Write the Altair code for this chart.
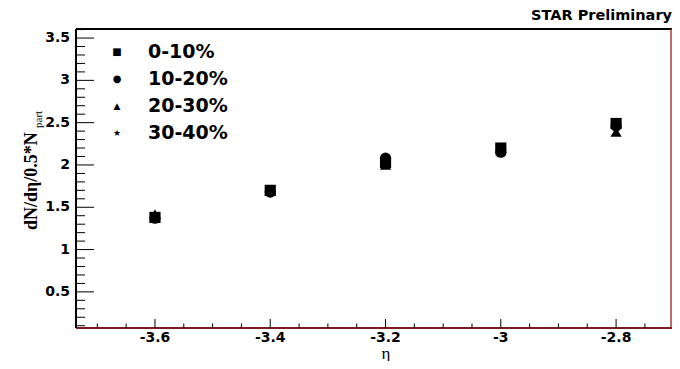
import altair as alt
import pandas as pd

# ---- data ----
eta = [-3.6, -3.4, -3.2, -3.0, -2.8]
centralities = ["0-10%", "10-20%", "20-30%", "30-40%"]
v_0_10 = [1.38, 1.70, 2.03, 2.20, 2.49]
v_10_20 = [1.37, 1.68, 2.08, 2.15, 2.46]
v_20_30 = [1.42, 1.69, 2.00, 2.17, 2.39]
v_30_40 = [1.39, 1.69, 1.96, 2.17, 2.41]
shapes = ["square", "circle", "triangle-up", "star"]
legend_glyphs = ["■", "●", "▲", "★"]
legend_glyph_sizes = [10, 10, 9, 9]

x_major = [-3.6, -3.4, -3.2, -3.0, -2.8]
x_labels = ["-3.6", "-3.4", "-3.2", "-3", "-2.8"]
x_minor = [-3.7, -3.65, -3.55, -3.5, -3.45, -3.35, -3.3, -3.25, -3.15, -3.1,
           -3.05, -2.95, -2.9, -2.85, -2.75]
y_major = [0.5, 1.0, 1.5, 2.0, 2.5, 3.0, 3.5]
y_labels = ["0.5", "1", "1.5", "2", "2.5", "3", "3.5"]
y_minor = [0.1, 0.2, 0.3, 0.4, 0.6, 0.7, 0.8, 0.9, 1.1, 1.2, 1.3, 1.4,
           1.6, 1.7, 1.8, 1.9, 2.1, 2.2, 2.3, 2.4, 2.6, 2.7, 2.8, 2.9,
           3.1, 3.2, 3.3, 3.4, 3.6]

title_text = ["STAR Preliminary"]
ylab_main = ["dN/dη/0.5*N"]
ylab_sub = ["part"]
xlab = ["η"]

W, H = 596, 299
xscale = alt.Scale(domain=[-3.737, -2.703], nice=False, zero=False)
yscale = alt.Scale(domain=[0.073, 3.607], nice=False, zero=False)
LBL = dict(font="DejaVu Sans", fontWeight="bold", fontSize=14, color="black")

rows = []
for c, vals in zip(centralities, [v_0_10, v_10_20, v_20_30, v_30_40]):
    for e, v in zip(eta, vals):
        rows.append({"eta": e, "val": v, "cent": c})
df = pd.DataFrame(rows)
one = pd.DataFrame({"k": [0]})

layers = []

# frame
layers.append(alt.Chart(one).mark_rule(color="black", strokeWidth=2).encode(
    x=alt.value(0), x2=alt.value(W), y=alt.value(0)))
layers.append(alt.Chart(one).mark_rule(color="#a83a3a", strokeWidth=1.5).encode(
    x=alt.value(W - 1), y=alt.value(0), y2=alt.value(H)))
layers.append(alt.Chart(one).mark_rule(color="#7d1c1c", strokeWidth=2).encode(
    x=alt.value(0), x2=alt.value(W), y=alt.value(H)))
layers.append(alt.Chart(one).mark_rule(color="black", strokeWidth=2).encode(
    x=alt.value(0), y=alt.value(0), y2=alt.value(H)))

# ticks (ROOT-style, pointing inward)
layers.append(alt.Chart(pd.DataFrame({"val": y_major})).mark_rule(color="black", strokeWidth=1).encode(
    y=alt.Y("val:Q", scale=yscale, axis=None), x=alt.value(0), x2=alt.value(18)))
layers.append(alt.Chart(pd.DataFrame({"val": y_minor})).mark_rule(color="black", strokeWidth=1).encode(
    y=alt.Y("val:Q", scale=yscale, axis=None), x=alt.value(0), x2=alt.value(9)))
layers.append(alt.Chart(pd.DataFrame({"eta": x_major})).mark_rule(color="black", strokeWidth=1).encode(
    x=alt.X("eta:Q", scale=xscale, axis=None), y=alt.value(H), y2=alt.value(H - 9)))
layers.append(alt.Chart(pd.DataFrame({"eta": x_minor})).mark_rule(color="black", strokeWidth=1).encode(
    x=alt.X("eta:Q", scale=xscale, axis=None), y=alt.value(H), y2=alt.value(H - 4.5)))

# tick labels
layers.append(alt.Chart(pd.DataFrame({"val": y_major, "lab": y_labels})).mark_text(
    align="right", baseline="middle", **LBL).encode(
    y=alt.Y("val:Q", scale=yscale, axis=None), x=alt.value(-6), text="lab:N"))
layers.append(alt.Chart(pd.DataFrame({"eta": x_major, "lab": x_labels})).mark_text(
    align="center", baseline="top", **LBL).encode(
    x=alt.X("eta:Q", scale=xscale, axis=None), y=alt.value(H + 3), text="lab:N"))

# titles
layers.append(alt.Chart(pd.DataFrame({"t": title_text})).mark_text(
    font="DejaVu Sans", fontWeight="bold", fontSize=14.5, align="right",
    baseline="alphabetic", color="black").encode(
    x=alt.value(W), y=alt.value(-9), text="t:N"))
layers.append(alt.Chart(pd.DataFrame({"t": ylab_main})).mark_text(
    font="Liberation Serif", fontSize=18, fontWeight="bold", angle=270, align="left",
    baseline="alphabetic", color="black").encode(
    x=alt.value(-39), y=alt.value(201), text="t:N"))
layers.append(alt.Chart(pd.DataFrame({"t": ylab_sub})).mark_text(
    font="Liberation Serif", fontSize=11, angle=270, align="left",
    baseline="alphabetic", color="black").encode(
    x=alt.value(-34), y=alt.value(99), text="t:N"))
layers.append(alt.Chart(pd.DataFrame({"t": xlab})).mark_text(
    font="Liberation Serif", fontSize=17, align="center",
    baseline="alphabetic", color="black").encode(
    x=alt.value(310), y=alt.value(330), text="t:N"))

# legend (text-based)
legend_y0, legend_dy = 23, 27
for i, (lab, g, gs) in enumerate(zip(centralities, legend_glyphs, legend_glyph_sizes)):
    ly = legend_y0 + i * legend_dy
    layers.append(alt.Chart(pd.DataFrame({"t": [lab]})).mark_text(
        font="DejaVu Sans", fontWeight="bold", fontSize=19, align="left",
        baseline="middle", color="black").encode(
        x=alt.value(72), y=alt.value(ly), text="t:N"))
    layers.append(alt.Chart(pd.DataFrame({"t": [g]})).mark_text(
        font="DejaVu Sans", fontSize=gs, align="center",
        baseline="middle", color="black").encode(
        x=alt.value(41), y=alt.value(ly), text="t:N"))

# data points (last)
layers.append(alt.Chart(df).mark_point(filled=True, size=125, opacity=1, color="black").encode(
    x=alt.X("eta:Q", scale=xscale, axis=None),
    y=alt.Y("val:Q", scale=yscale, axis=None),
    shape=alt.Shape("cent:N", scale=alt.Scale(domain=centralities, range=shapes), legend=None),
))

chart = alt.layer(*layers).properties(
    width=W, height=H,
    autosize=alt.AutoSizeParams(type="none"),
    padding={"left": 68, "top": 21, "right": 0, "bottom": 33},
    background="white",
).configure_view(stroke=None)

chart.save("out.html", embed_options={"renderer": "svg", "actions": False})
